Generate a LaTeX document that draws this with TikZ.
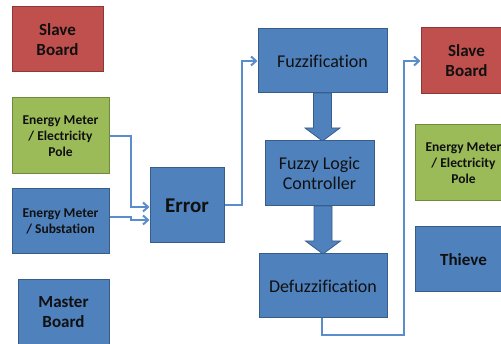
\documentclass[tikz,border=0pt]{standalone}
\usepackage{fontspec}
\setmainfont[Ligatures=NoCommon]{Carlito}
\usetikzlibrary{arrows.meta}
\definecolor{bfill}{HTML}{4F81BD}
\definecolor{bdraw}{HTML}{385D8A}
\definecolor{rfill}{HTML}{C0504D}
\definecolor{rdraw}{HTML}{8C3836}
\definecolor{gfill}{HTML}{9BBB59}
\definecolor{gdraw}{HTML}{71893F}
\definecolor{conn}{HTML}{5B8CCB}
\definecolor{txt}{HTML}{101010}
\tikzset{
  box/.style={rectangle, line width=1pt, text=txt, align=center, inner sep=0pt},
  bluebox/.style={box, fill=bfill, draw=bdraw},
  redbox/.style={box, fill=rfill, draw=rdraw},
  greenbox/.style={box, fill=gfill, draw=gdraw},
  bigtxt/.style={font=\fontsize{17}{20}\selectfont\bfseries},
  smalltxt/.style={font=\fontsize{13.5}{16}\selectfont\bfseries},
  midtxt/.style={font=\fontsize{18}{20}\selectfont},
  connline/.style={draw=conn, line width=2pt, -{Straight Barb[length=5pt,width=9pt,line width=2pt]}},
  fatarrow/.style={fill=bfill, draw=bdraw, line width=0.8pt}
}
\begin{document}
\begin{tikzpicture}[x=1pt,y=-1pt]
\useasboundingbox (0,0) rectangle (501,344);
\clip (0,0) rectangle (501,344);
% left column
\node[redbox, bigtxt, minimum width=91pt, minimum height=65pt] (lslave) at (57.5,39.5) {Slave\\Board};
\node[greenbox, smalltxt, minimum width=97pt, minimum height=76pt] (lgreen) at (60.5,136) {Energy Meter\\/ Electricity\\Pole};
\node[bluebox, smalltxt, minimum width=97pt, minimum height=65pt] (sub) at (60.5,221.5) {Energy Meter\\/ Substation};
\node[bluebox, bigtxt, minimum width=91pt, minimum height=65pt] (master) at (63.5,312.5) {Master\\Board};
% error
\node[bluebox, font=\fontsize{21}{24}\selectfont\bfseries, minimum width=74pt, minimum height=75pt] (err) at (187,205.5) {Error};
% fuzzy chain
\coordinate (t1) at (322.5,141);
\coordinate (s1) at (322.5,93);
\coordinate (t2) at (323,254);
\coordinate (s2) at (323,206);
\draw[fatarrow] ([xshift=-9pt]s1) -- ([xshift=-9pt,yshift=13pt]t1) -- ([xshift=-17.5pt,yshift=13pt]t1) -- (t1)
  -- ([xshift=17.5pt,yshift=13pt]t1) -- ([xshift=9pt,yshift=13pt]t1) -- ([xshift=9pt]s1) -- cycle;
\draw[fatarrow] ([xshift=-9pt]s2) -- ([xshift=-9pt,yshift=13pt]t2) -- ([xshift=-17.5pt,yshift=13pt]t2) -- (t2)
  -- ([xshift=17.5pt,yshift=13pt]t2) -- ([xshift=9pt,yshift=13pt]t2) -- ([xshift=9pt]s2) -- cycle;
\node[bluebox, midtxt, minimum width=129pt, minimum height=64pt] (fuzz) at (322.5,61) {Fuzzification};
\node[bluebox, midtxt, minimum width=109pt, minimum height=65pt] (flc) at (319.5,173.5) {Fuzzy Logic\\Controller};
\node[bluebox, midtxt, minimum width=128pt, minimum height=64pt] (defuzz) at (323,286) {Defuzzification};
% right column
\node[redbox, bigtxt, minimum width=91pt, minimum height=66pt] (rslave) at (466.5,61) {Slave\\Board};
\node[greenbox, smalltxt, minimum width=97pt, minimum height=76pt] (rgreen) at (463.5,163) {Energy Meter\\/ Electricity\\Pole};
\node[bluebox, bigtxt, minimum width=97pt, minimum height=65pt] (thieve) at (463.5,259.5) {Thieve};
% connectors
\draw[connline] (lgreen.east) -- ++(21,0) |- ([yshift=-1.5pt]err.west);
\draw[connline] ([yshift=4.5pt]sub.east) -- ++(21,0) |- ([yshift=-14.5pt]err.west);
\draw[connline] (err.east) -- ++(17,0) |- (fuzz.west);
\draw[connline] ([xshift=-1pt]defuzz.south) -- ++(0,17) -- ++(82,0) |- (rslave.west);
\end{tikzpicture}
\end{document}
